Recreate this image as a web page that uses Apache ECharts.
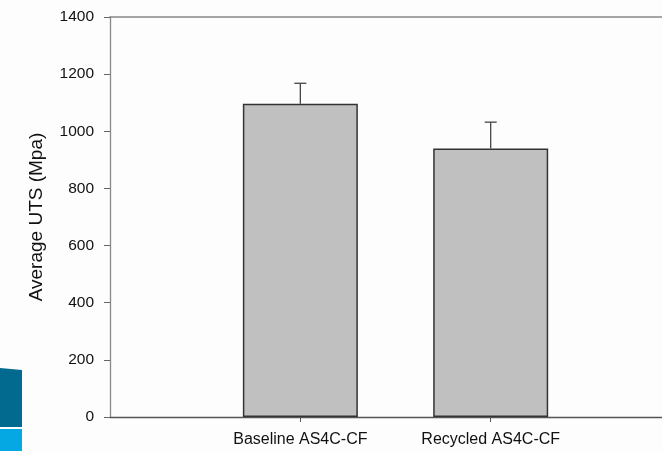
<!DOCTYPE html>
<html>
<head>
<meta charset="utf-8">
<script src="https://cdn.jsdelivr.net/npm/echarts@6/dist/echarts.min.js"></script>
<style>
  html, body { margin: 0; padding: 0; background: #fdfdfd; }
  #chart { width: 662px; height: 451px; }
</style>
</head>
<body>
<div id="chart"></div>
<script>
// Tensile strength of baseline vs recycled carbon fibre
const categories = ['Baseline AS4C-CF', 'Recycled AS4C-CF'];
const positions = [1, 2];
const meanUTS = [1096, 940];
const stdDev = [72, 92];
const yTicks = [0, 200, 400, 600, 800, 1000, 1200, 1400];

const FONT = '"Liberation Sans", Arial, sans-serif';

const barData = positions.map((p, i) => [p, meanUTS[i]]);
const errData = positions.map((p, i) => [p, meanUTS[i], meanUTS[i] + stdDev[i]]);

const chart = echarts.init(document.getElementById('chart'), null, { renderer: 'canvas' });

chart.setOption({
  backgroundColor: '#fdfdfd',
  animation: false,
  grid: { left: 110, right: 0, top: 17, bottom: 34, containLabel: false },
  xAxis: [
    {
      type: 'value',
      min: 0,
      max: 2.9,
      interval: 1,
      splitLine: { show: false },
      axisLine: { show: true, lineStyle: { color: '#555', width: 1.3 } },
      axisTick: { show: true, customValues: positions, length: 5, lineStyle: { color: '#555' } },
      axisLabel: {
        customValues: positions,
        formatter: v => categories[positions.indexOf(Math.round(v))] || '',
        color: '#111',
        fontFamily: FONT,
        fontSize: 16,
        margin: 15
      }
    },
    {
      type: 'value',
      position: 'top',
      min: 0,
      max: 2.9,
      splitLine: { show: false },
      axisLine: { show: true, lineStyle: { color: '#888', width: 1.5 } },
      axisTick: { show: false },
      axisLabel: { show: false }
    }
  ],
  yAxis: {
    type: 'value',
    min: yTicks[0],
    max: yTicks[yTicks.length - 1],
    interval: 200,
    name: 'Average UTS (Mpa)',
    nameLocation: 'middle',
    nameGap: 64,
    nameTextStyle: { color: '#111', fontFamily: FONT, fontSize: 19 },
    splitLine: { show: false },
    axisLine: { show: true, lineStyle: { color: '#888', width: 1.3 } },
    axisTick: { show: true, length: 6, lineStyle: { color: '#666' } },
    axisLabel: {
      formatter: v => String(v),
      color: '#111',
      fontFamily: FONT,
      fontSize: 15.5,
      margin: 16
    }
  },
  series: [
    {
      type: 'bar',
      data: barData,
      barWidth: 115,
      itemStyle: { color: '#c0c0c0', borderColor: '#333', borderWidth: 1.5 }
    },
    {
      type: 'custom',
      data: errData,
      z: 5,
      renderItem: function (params, api) {
        const x = api.value(0);
        const base = api.coord([x, api.value(1)]);
        const top = api.coord([x, api.value(2)]);
        const half = 6;
        const style = { stroke: '#444', lineWidth: 1.3 };
        return {
          type: 'group',
          children: [
            { type: 'line', shape: { x1: base[0], y1: base[1], x2: top[0], y2: top[1] }, style },
            { type: 'line', shape: { x1: top[0] - half, y1: top[1], x2: top[0] + half, y2: top[1] }, style }
          ]
        };
      }
    }
  ],
  graphic: [
    {
      type: 'polygon',
      shape: { points: [[0, 368], [22, 370], [22, 427], [0, 427]] },
      style: { fill: '#036a8f' }
    },
    {
      type: 'rect',
      shape: { x: 0, y: 429, width: 22, height: 22 },
      style: { fill: '#05a8e2' }
    }
  ]
});
</script>
</body>
</html>
